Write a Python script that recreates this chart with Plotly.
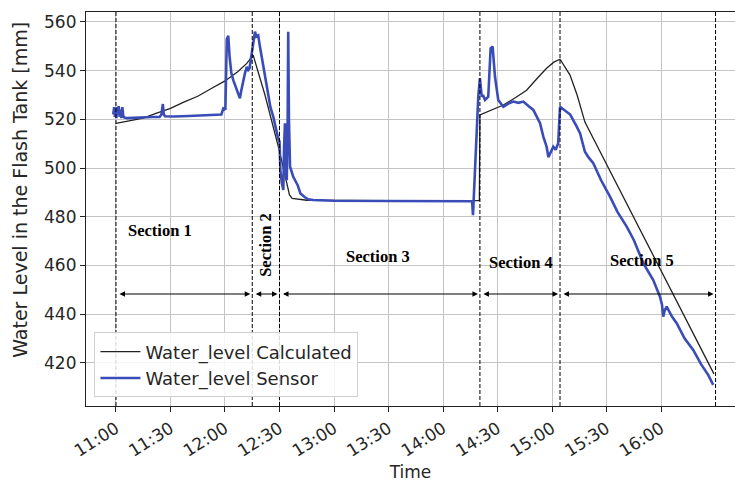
import pandas as pd
import plotly.graph_objects as go

BASE = pd.Timestamp("2023-01-01 11:00:00")

# Calculated water level: minutes after 11:00, value [mm]
calc_min = [0, 5, 10, 15, 22, 30, 37, 45, 52, 60, 67, 72, 75.5, 82, 90, 93, 95.5, 97, 105, 150, 200,
            200.3, 205, 213.2, 220, 226, 232, 237, 241, 244.4, 249.9, 253.8, 258.1, 329.1]
calc_val = [518.4, 519.0, 519.8, 520.5, 522.5, 524.5, 527.0, 529.5, 532.5, 535.8, 539.6, 543.0, 546.4,
            530.0, 507.0, 497.0, 489.0, 487.6, 486.8, 486.6, 486.6,
            521.8, 523.2, 525.9, 529.0, 532.0, 537.0, 541.0, 543.5, 544.7, 538.2, 530.0, 518.9, 415.5]

# Sensor water level: minutes after 11:00, value [mm]
sens_min = [-1.5, -1.0, -0.6, -0.2, 0.2, 0.6, 1.0, 1.5, 2.0, 2.5, 3.0, 3.5, 4.0, 4.5, 6, 10, 15, 20, 24,
            25, 25.8, 26.3, 27, 32, 40, 48, 55, 58, 59.1, 60.2, 61, 61.8, 62.5, 63.5, 64.6, 66, 67.3, 68.2,
            69, 70, 71, 72, 72.8, 73.5, 74.7, 75.5, 76.5, 77.3, 78.3, 79.2, 80.2, 81, 82, 83, 83.8, 85,
            86.6, 88, 89.3, 90, 90.5, 91.3, 92.1, 92.5, 93, 93.5, 94, 94.5, 94.8, 95.2, 95.8, 96.7, 97.5,
            100, 101.5, 104, 105.8, 108.6, 120, 150, 180, 196, 196.5, 198, 199.4, 200.3, 201.3, 202,
            203.1, 204.9, 205.6, 206.2, 207.3, 208, 208.6, 210.4, 213.2, 216, 218.7, 221.5, 224.2, 227,
            229.7, 232, 233.4, 235.2, 237.0, 238.0, 238.9, 240.7, 242, 243.4, 244.4, 246, 248.0, 250,
            253.6, 255.4, 258.1, 260, 262.7, 267, 271.9, 276, 281.1, 285, 290.2, 293, 295.7, 299.4,
            300.5, 301.2, 302, 303.1, 306, 308.6, 313, 317.7, 322, 326, 328.7]
sens_val = [522, 525, 521, 524.5, 520.5, 525, 522, 525.5, 521, 524, 520.5, 525, 521.5, 520.8, 520.5,
            520.7, 520.8, 521, 521, 522, 526.3, 522, 521.3, 521.2, 521.4, 521.6, 521.8, 522, 524.5, 524,
            553, 554.3, 546, 539, 536, 532.8, 530, 528.7, 532, 536.2, 539, 541.6, 540.3, 541, 547, 553,
            556, 554, 554.5, 550, 545.8, 541, 537, 533, 529.5, 525, 521, 516, 512, 511, 499, 493.8, 491,
            508, 518.4, 500, 495, 520, 556, 520, 500.6, 498.5, 496.5, 493, 489.6, 488, 487.2, 486.9,
            486.6, 486.5, 486.5, 486.4, 480.7, 505, 529.3, 536.9, 529.3, 530, 528, 529.3, 540, 549.2,
            549.9, 544, 537.5, 528, 525.2, 526.5, 527.3, 526.8, 527.3, 525.5, 523.9, 520.5, 518.4, 512.9,
            508.8, 504.5, 506, 508.8, 507.5, 510.2, 525.2, 524.2, 523.2, 522, 517, 514.3, 506.7, 504.5,
            502, 495, 488.3, 482, 476, 470.5, 461, 457.5, 454, 447.2, 444, 439, 441.5, 443.1, 439,
            436.3, 430, 425.3, 419.5, 415, 411]

# Section boundaries (minutes after 11:00) and labels
bound_min = [0, 75, 90, 200.3, 244.4, 330]
sec_labels = ["Section 1", "Section 2", "Section 3", "Section 4", "Section 5"]
sec_label_min = [24.2, 82.6, 144.2, 222.9, 289.7]
sec_label_val = [474.2, 468.5, 463.5, 461.3, 461.9]
sec_label_angle = [0, -90, 0, 0, 0]
arrow_val = 448.3

x_ticks = ["11:00", "11:30", "12:00", "12:30", "13:00", "13:30", "14:00", "14:30", "15:00", "15:30", "16:00"]
y_ticks = [420, 440, 460, 480, 500, 520, 540, 560]
y_title = "Water Level in the Flash Tank [mm]"


def t(m):
    return BASE + pd.to_timedelta(m, unit="min")


def ts(m):
    return t(m).strftime("%Y-%m-%d %H:%M:%S")


fig = go.Figure()
fig.add_trace(go.Scatter(x=[t(m) for m in calc_min], y=calc_val, mode="lines",
                         name="Water_level Calculated", line=dict(color="#222222", width=1.3)))
fig.add_trace(go.Scatter(x=[t(m) for m in sens_min], y=sens_val, mode="lines",
                         name="Water_level Sensor", line=dict(color="#3a4cb8", width=2.6)))

shapes = []
for b in bound_min:
    shapes.append(dict(type="line", xref="x", yref="paper", x0=ts(b), x1=ts(b), y0=0, y1=1,
                       line=dict(color="black", width=1, dash="4px,2px")))

annotations = []
for i in range(len(bound_min) - 1):
    annotations.append(dict(x=ts(bound_min[i + 1]), y=arrow_val, ax=ts(bound_min[i]), ay=arrow_val,
                            xref="x", yref="y", axref="x", ayref="y", text="", showarrow=True,
                            arrowhead=2, startarrowhead=2, arrowside="end+start", arrowsize=1,
                            startarrowsize=1, arrowwidth=1.1, arrowcolor="black",
                            standoff=2, startstandoff=2))
for lab, m, v, ang in zip(sec_labels, sec_label_min, sec_label_val, sec_label_angle):
    annotations.append(dict(x=ts(m), y=v, xref="x", yref="y", text="<b>" + lab + "</b>",
                            showarrow=False, textangle=ang,
                            font=dict(family="Liberation Serif", size=16.5, color="black")))
# y-axis title (placed as annotation to match the reference's vertical offset)
annotations.append(dict(x=-0.101, y=0.55, xref="paper", yref="paper", text=y_title, showarrow=False,
                        textangle=-90, xanchor="center", yanchor="middle",
                        font=dict(family="DejaVu Sans", size=19, color="#262626")))

tick_vals = [pd.Timestamp("2023-01-01 " + s) for s in x_ticks]

fig.update_layout(
    width=735, height=484,
    margin=dict(l=86, r=0, t=12, b=78),
    paper_bgcolor="white", plot_bgcolor="white",
    font=dict(family="DejaVu Sans", color="#262626", size=16),
    shapes=shapes, annotations=annotations,
    showlegend=True,
    legend=dict(x=0.013, y=0.022, xanchor="left", yanchor="bottom",
                bgcolor="rgba(255,255,255,0.85)", bordercolor="#d0d0d0", borderwidth=1,
                font=dict(family="DejaVu Sans", size=18, color="#262626"), itemwidth=40,
                tracegroupgap=2),
)
fig.update_xaxes(range=[ts(-16.5), ts(340.7)], tickvals=tick_vals, ticktext=x_ticks, tickangle=-32,
                 showgrid=True, gridcolor="#c4c4c4", gridwidth=1,
                 showline=True, linecolor="#222222", linewidth=1.2, mirror=True,
                 ticks="outside", ticklen=5, tickcolor="#222222", automargin=False,
                 tickfont=dict(size=17), title=dict(text="Time", font=dict(size=17), standoff=6),
                 zeroline=False)
fig.update_yaxes(range=[402.3, 564.1], tickvals=y_ticks,
                 showgrid=True, gridcolor="#c4c4c4", gridwidth=1,
                 showline=True, linecolor="#222222", linewidth=1.2,
                 ticks="outside", ticklen=5, tickcolor="#222222", automargin=False,
                 tickfont=dict(size=17), zeroline=False)

fig.write_html("out.html", config={"displayModeBar": False},
               post_script="document.body.style.margin='0';document.body.style.overflow='hidden';")
